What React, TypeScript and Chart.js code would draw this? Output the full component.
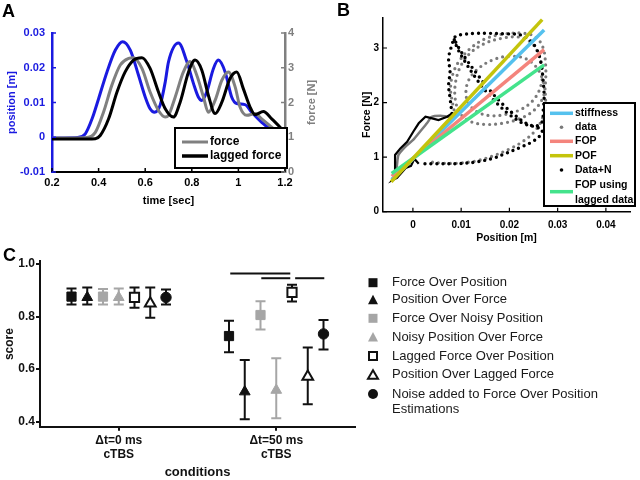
import React, { useEffect, useRef } from "react";
import { Chart, registerables } from "chart.js";
Chart.register(...registerables);

const FONT = "'Liberation Sans', Arial, Helvetica, sans-serif";
const BLUE = "#1a1ae0";
const GRAYA = "#808080";

// ---------------- Panel A data ----------------
const aTimeTicks = [0.2, 0.4, 0.6, 0.8, 1.0, 1.2];
const aTimeTickLabels = ["0.2", "0.4", "0.6", "0.8", "1", "1.2"];
const aPosTicks = [-0.01, 0, 0.01, 0.02, 0.03];
const aPosTickLabels = ["-0.01", "0", "0.01", "0.02", "0.03"];
const aForceTicks = [0, 1, 2, 3, 4];
const aForceTickLabels = ["0", "1", "2", "3", "4"];

const posTime = [0.2, 0.25, 0.31, 0.343, 0.372, 0.4, 0.436, 0.472, 0.503, 0.536, 0.571, 0.6, 0.621, 0.64, 0.664, 0.686, 0.7, 0.743, 0.779, 0.807, 0.828, 0.843, 0.864, 0.893, 0.914, 0.943, 0.971, 0.993, 1.028, 1.057, 1.1, 1.143, 1.186, 1.2];
const posValues = [-0.0002, -0.0002, -0.0001, 0.001, 0.0053, 0.0111, 0.0188, 0.0251, 0.0275, 0.0251, 0.0179, 0.0116, 0.0082, 0.0072, 0.0092, 0.0159, 0.0217, 0.0271, 0.0217, 0.0155, 0.0116, 0.0106, 0.013, 0.0198, 0.0222, 0.0188, 0.0116, 0.0097, 0.0094, 0.0072, 0.0043, 0.0019, -0.001, -0.0022];

const forceTime = [0.2, 0.3, 0.35, 0.386, 0.421, 0.457, 0.493, 0.529, 0.55, 0.586, 0.621, 0.657, 0.686, 0.7, 0.729, 0.764, 0.793, 0.821, 0.85, 0.871, 0.9, 0.929, 0.957, 0.986, 1.007, 1.036, 1.071, 1.1, 1.143, 1.186, 1.2];
const forceValues = [0.98, 0.98, 0.99, 1.14, 1.72, 2.5, 3.08, 3.27, 3.29, 2.98, 2.3, 1.77, 1.58, 1.63, 2.16, 2.88, 3.18, 2.79, 2.16, 1.72, 2.06, 2.64, 2.88, 2.45, 1.87, 1.63, 1.68, 1.53, 1.29, 1.05, 1.0];

const laggedTime = [0.2, 0.35, 0.386, 0.407, 0.443, 0.479, 0.514, 0.55, 0.586, 0.621, 0.657, 0.686, 0.721, 0.75, 0.786, 0.814, 0.843, 0.871, 0.9, 0.929, 0.964, 0.993, 1.021, 1.05, 1.071, 1.107, 1.143, 1.179, 1.2];
const laggedValues = [0.95, 0.95, 0.96, 1.05, 1.53, 2.3, 2.88, 3.22, 3.29, 2.98, 2.3, 1.82, 1.58, 2.01, 2.88, 3.22, 2.93, 2.21, 1.68, 2.01, 2.69, 2.88, 2.4, 1.87, 1.65, 1.74, 1.53, 1.29, 1.14];

const aLegendLabels = ["force", "lagged force"];

// ---------------- Panel B data ----------------
const bPosTicks = [0, 0.01, 0.02, 0.03, 0.04];
const bPosTickLabels = ["0", "0.01", "0.02", "0.03", "0.04"];
const bForceTicks = [0, 1, 2, 3];
const bForceTickLabels = ["0", "1", "2", "3"];

const dataTrace = [[-0.0044, 0.6], [-0.0037, 0.64], [-0.0033, 0.86], [-0.003, 1.04], [-0.0016, 1.19], [0.0001, 1.32], [0.0015, 1.47], [0.0029, 1.62], [0.0039, 1.74], [0.0057, 1.76], [0.0077, 1.74], [0.0088, 1.76]];
const dataLoop = [[0.0088, 1.76], [0.0082, 2.0], [0.0078, 2.25], [0.0082, 2.5], [0.0095, 2.75], [0.012, 3.0], [0.015, 3.17], [0.019, 3.26], [0.023, 3.27], [0.0255, 3.2], [0.027, 3.0], [0.0275, 2.7], [0.0275, 2.4], [0.027, 2.1], [0.025, 1.85], [0.022, 1.7], [0.0185, 1.62], [0.015, 1.6], [0.012, 1.65], [0.0098, 1.8], [0.0088, 2.05], [0.0088, 2.35], [0.0098, 2.65], [0.0118, 2.9], [0.0148, 3.08], [0.0185, 3.18], [0.022, 3.2], [0.0245, 3.1], [0.026, 2.9], [0.0268, 2.6], [0.0265, 2.3], [0.025, 2.05], [0.0225, 1.88], [0.019, 1.78], [0.016, 1.76], [0.0135, 1.82], [0.0118, 1.95], [0.011, 2.15], [0.0115, 2.4], [0.0135, 2.62], [0.0165, 2.78], [0.02, 2.85], [0.0235, 2.8], [0.026, 2.6], [0.0272, 2.3], [0.0275, 2.0], [0.027, 1.75], [0.0255, 1.5], [0.023, 1.3], [0.02, 1.15], [0.0165, 1.02], [0.013, 0.93], [0.0095, 0.89], [0.006, 0.89], [0.003, 0.92]];
const noisyTrace = [[0.0012, 0.88], [0.0003, 0.97], [-0.0004, 0.84], [-0.0015, 0.8], [-0.0025, 0.7], [-0.0033, 0.62], [-0.0042, 0.58], [-0.0037, 0.63], [-0.0037, 1.04], [-0.0026, 1.16], [-0.0012, 1.28], [0.0001, 1.47], [0.0012, 1.62], [0.0026, 1.74], [0.0036, 1.72], [0.0053, 1.68], [0.0071, 1.74], [0.0081, 1.8]];
const noisyLoop = [[0.0081, 1.8], [0.0077, 2.08], [0.0074, 2.32], [0.0077, 2.57], [0.0074, 2.81], [0.0081, 3.06], [0.0088, 3.21], [0.0105, 3.25], [0.013, 3.27], [0.0155, 3.27], [0.019, 3.26], [0.0223, 3.24], [0.0245, 3.12], [0.0258, 2.95], [0.0266, 2.7], [0.027, 2.4], [0.0272, 2.1], [0.027, 1.85], [0.0268, 1.65], [0.0255, 1.57], [0.0235, 1.62], [0.021, 1.78], [0.0185, 1.98], [0.016, 2.22], [0.0135, 2.5], [0.011, 2.8], [0.0092, 3.05], [0.0085, 3.18], [0.0092, 3.0], [0.0108, 2.75], [0.0128, 2.48], [0.015, 2.22], [0.0175, 1.98], [0.02, 1.78], [0.0228, 1.62], [0.0255, 1.55], [0.0268, 1.5], [0.0262, 1.38], [0.0245, 1.27], [0.0223, 1.18], [0.019, 1.06], [0.0167, 0.98], [0.013, 0.91], [0.009, 0.88], [0.005, 0.88], [0.0015, 0.88]];

const stiffnessLine = [[-0.0044, 0.58], [0.0272, 3.33]];
const fopLine = [[-0.0044, 0.65], [0.0272, 2.97]];
const pofLine = [[-0.0045, 0.55], [0.0268, 3.52]];
const fopLaggedLine = [[-0.0044, 0.7], [0.0272, 2.69]];

const bLegendLabels = [["stiffness"], ["data"], ["FOP"], ["POF"], ["Data+N"], ["FOP using", "lagged data"]];

// ---------------- Panel C data ----------------
const cConditions = [["\u0394t=0 ms", "cTBS"], ["\u0394t=50 ms", "cTBS"]];
const cScoreTicks = [0.4, 0.6, 0.8, 1.0];
const cScoreTickLabels = ["0.4", "0.6", "0.8", "1.0"];
const cSeriesNames = ["Force Over Position", "Position Over Force", "Force Over Noisy Position", "Noisy Position Over Force", "Lagged Force Over Position", "Position Over Lagged Force", "Noise added to Force Over Position Estimations"];
const cLegendLines = [["Force Over Position"], ["Position Over Force"], ["Force Over Noisy Position"], ["Noisy Position Over Force"], ["Lagged Force Over Position"], ["Position Over Lagged Force"], ["Noise added to Force Over Position", "Estimations"]];

const meanFOP = [0.876, 0.726];
const lowFOP = [0.846, 0.664];
const highFOP = [0.907, 0.784];
const meanPOF = [0.873, 0.514];
const lowPOF = [0.846, 0.409];
const highPOF = [0.911, 0.635];
const meanFONP = [0.876, 0.806];
const lowFONP = [0.846, 0.751];
const highFONP = [0.905, 0.858];
const meanNPOF = [0.873, 0.52];
const lowNPOF = [0.846, 0.413];
const highNPOF = [0.907, 0.641];
const meanLFOP = [0.873, 0.892];
const lowLFOP = [0.834, 0.857];
const highLFOP = [0.911, 0.921];
const meanPOLF = [0.85, 0.571];
const lowPOLF = [0.796, 0.466];
const highPOLF = [0.911, 0.682];
const meanNOISE = [0.873, 0.734];
const lowNOISE = [0.846, 0.675];
const highNOISE = [0.903, 0.787];

const sigStart = [0.708, 0.905, 1.12];
const sigEnd = [1.089, 1.089, 1.305];
const sigLevel = [0.964, 0.946, 0.946];

// --------------------------------------------------------------
const pts = (xs: number[], ys: number[]) => xs.map((x, i) => ({ x, y: ys[i] }));
const pairs = (p: number[][]) => p.map(([x, y]) => ({ x, y }));
const fixTicks = (vals: number[]) => (s: any) => { s.ticks = vals.map((v) => ({ value: v })); };
const f = (size: number, bold = true) => ({ family: FONT, size, weight: bold ? ("bold" as const) : ("normal" as const) });

function innerTicksPlugin(items: { id: string; len: number; color: string; width: number }[]) {
  return {
    id: "innerTicks",
    afterDatasetsDraw(chart: any) {
      const ctx = chart.ctx;
      items.forEach((it) => {
        const s = chart.scales[it.id];
        if (!s) return;
        ctx.save();
        ctx.strokeStyle = it.color;
        ctx.lineWidth = it.width;
        ctx.beginPath();
        s.ticks.forEach((t: any) => {
          const p = s.getPixelForValue(t.value);
          if (s.position === "left") { ctx.moveTo(s.right, p); ctx.lineTo(s.right + it.len, p); }
          else if (s.position === "right") { ctx.moveTo(s.left, p); ctx.lineTo(s.left - it.len, p); }
          else { ctx.moveTo(p, s.top); ctx.lineTo(p, s.top - it.len); }
        });
        ctx.stroke();
        ctx.restore();
      });
    },
  };
}

type LegItem = { kind: "line" | "dot"; color: string; width: number; sy: number; lines: string[]; ty: number[] };
function boxLegendPlugin(cfg: { x: number; y: number; w: number; h: number; sx0: number; sx1: number; tx: number; font: string; items: LegItem[] }) {
  return {
    id: "boxLegend",
    afterDraw(chart: any) {
      const ctx = chart.ctx;
      ctx.save();
      ctx.fillStyle = "#fff";
      ctx.fillRect(cfg.x, cfg.y, cfg.w, cfg.h);
      ctx.strokeStyle = "#000";
      ctx.lineWidth = 2;
      ctx.strokeRect(cfg.x, cfg.y, cfg.w, cfg.h);
      ctx.font = cfg.font;
      ctx.textBaseline = "middle";
      ctx.textAlign = "left";
      cfg.items.forEach((it) => {
        if (it.kind === "line") {
          ctx.strokeStyle = it.color;
          ctx.lineWidth = it.width;
          ctx.beginPath();
          ctx.moveTo(cfg.sx0, it.sy);
          ctx.lineTo(cfg.sx1, it.sy);
          ctx.stroke();
        } else {
          ctx.fillStyle = it.color;
          ctx.beginPath();
          ctx.arc((cfg.sx0 + cfg.sx1) / 2, it.sy, it.width, 0, Math.PI * 2);
          ctx.fill();
        }
        ctx.fillStyle = "#000";
        it.lines.forEach((ln, k) => ctx.fillText(ln, cfg.tx, it.ty[k]));
      });
      ctx.restore();
    },
  };
}

function makeA(canvas: HTMLCanvasElement) {
  const rightTitle = {
    id: "rightTitle",
    afterDraw(chart: any) {
      const s = chart.scales.yR;
      const ctx = chart.ctx;
      ctx.save();
      ctx.translate(s.right - 8.3, (chart.chartArea.top + chart.chartArea.bottom) / 2);
      ctx.rotate(-Math.PI / 2);
      ctx.font = `bold 11px ${FONT}`;
      ctx.fillStyle = GRAYA;
      ctx.textAlign = "center";
      ctx.textBaseline = "middle";
      ctx.fillText("force [N]", 0, 0);
      ctx.restore();
    },
  };
  return new Chart(canvas, {
    type: "line",
    data: {
      datasets: [
        { label: aLegendLabels[1], data: pts(laggedTime, laggedValues), yAxisID: "yR", borderColor: "#000", borderWidth: 3, pointRadius: 0, cubicInterpolationMode: "monotone" },
        { label: aLegendLabels[0], data: pts(forceTime, forceValues), yAxisID: "yR", borderColor: GRAYA, borderWidth: 3, pointRadius: 0, cubicInterpolationMode: "monotone" },
        { label: "position", data: pts(posTime, posValues), yAxisID: "yL", borderColor: BLUE, borderWidth: 3, pointRadius: 0, cubicInterpolationMode: "monotone" },
      ],
    },
    options: {
      responsive: false,
      animation: false,
      layout: { padding: { top: 33, left: 0, right: 0, bottom: 0 } },
      plugins: { legend: { display: false }, tooltip: { enabled: false } },
      scales: {
        x: {
          type: "linear", position: "bottom", min: 0.2, max: 1.2,
          afterBuildTicks: fixTicks(aTimeTicks),
          afterFit: (s: any) => { s.height = 43; },
          grid: { display: false, drawTicks: false },
          border: { display: true, color: "#000", width: 2 },
          ticks: { color: "#000", font: f(11), padding: 4.5, maxRotation: 0, autoSkip: false, callback: (_v: any, i: number) => aTimeTickLabels[i] },
          title: { display: true, text: "time [sec]", color: "#000", font: f(11), padding: { top: 0, bottom: 7.4 } },
        },
        yL: {
          type: "linear", position: "left", min: -0.01, max: 0.03,
          afterBuildTicks: fixTicks(aPosTicks),
          afterFit: (s: any) => { s.width = 52; },
          grid: { display: false, drawTicks: false },
          border: { display: true, color: BLUE, width: 2.5 },
          ticks: { color: BLUE, font: f(11), padding: 7, autoSkip: false, callback: (_v: any, i: number) => aPosTickLabels[i] },
          title: { display: true, text: "position [m]", color: BLUE, font: f(11), padding: { top: 5, bottom: 0 } },
        },
        yR: {
          type: "linear", position: "right", min: 0, max: 4,
          afterBuildTicks: fixTicks(aForceTicks),
          afterFit: (s: any) => { s.width = 35; },
          grid: { display: false, drawTicks: false },
          border: { display: true, color: GRAYA, width: 2.5 },
          ticks: { color: GRAYA, font: f(11), padding: 3, autoSkip: false, callback: (_v: any, i: number) => aForceTickLabels[i] },
          title: { display: false },
        },
      },
    } as any,
    plugins: [
      innerTicksPlugin([
        { id: "x", len: 4, color: "#000", width: 1.5 },
        { id: "yL", len: 4, color: BLUE, width: 1.5 },
        { id: "yR", len: 4, color: GRAYA, width: 1.5 },
      ]),
      boxLegendPlugin({
        x: 175, y: 128, w: 112, h: 40, sx0: 182, sx1: 208, tx: 210, font: `bold 12px ${FONT}`,
        items: [
          { kind: "line", color: GRAYA, width: 3, sy: 142, lines: [aLegendLabels[0]], ty: [142] },
          { kind: "line", color: "#000", width: 3.5, sy: 156, lines: [aLegendLabels[1]], ty: [156] },
        ],
      }),
      rightTitle,
    ],
  });
}

const C_STIFF = "#55c1ee";
const C_FOP = "#f4847c";
const C_POF = "#c4c40c";
const C_GREEN = "#44e38c";

function makeB(canvas: HTMLCanvasElement) {
  const dot = { pointRadius: 0, borderDash: [0, 6], borderCapStyle: "round", tension: 0.35 };
  return new Chart(canvas, {
    type: "line",
    data: {
      datasets: [
        { label: "POF", data: pairs(pofLine), borderColor: C_POF, borderWidth: 3.5, pointRadius: 0 },
        { label: "FOP using lagged data", data: pairs(fopLaggedLine), borderColor: C_GREEN, borderWidth: 3.5, pointRadius: 0 },
        { label: "FOP", data: pairs(fopLine), borderColor: C_FOP, borderWidth: 3.5, pointRadius: 0 },
        { label: "stiffness", data: pairs(stiffnessLine), borderColor: C_STIFF, borderWidth: 3.5, pointRadius: 0 },
        { label: "Data+N", data: pairs(noisyLoop), borderColor: "#000", borderWidth: 3.4, ...dot },
        { label: "Data+N trace", data: pairs(noisyTrace), borderColor: "#000", borderWidth: 2.2, pointRadius: 0, tension: 0 },
        { label: "data", data: pairs(dataLoop), borderColor: "#7a7a7a", borderWidth: 3.2, ...dot },
        { label: "data trace", data: pairs(dataTrace), borderColor: "#7a7a7a", borderWidth: 2.5, pointRadius: 0, tension: 0.2 },
      ],
    },
    options: {
      responsive: false,
      animation: false,
      layout: { padding: { top: 18, left: 35, right: 10, bottom: 0 } },
      plugins: { legend: { display: false }, tooltip: { enabled: false } },
      scales: {
        x: {
          type: "linear", position: "bottom", min: -0.0062, max: 0.045,
          afterBuildTicks: fixTicks(bPosTicks),
          afterFit: (s: any) => { s.height = 38.3; },
          grid: { display: false, drawTicks: false },
          border: { display: true, color: "#000", width: 1.5 },
          ticks: { color: "#000", font: f(10), padding: 7.3, maxRotation: 0, autoSkip: false, callback: (_v: any, i: number) => bPosTickLabels[i] },
          title: { display: true, text: "Position [m]", color: "#000", font: f(10.5), padding: { top: 0, bottom: 5.7 } },
        },
        y: {
          type: "linear", position: "left", min: 0, max: 3.55,
          afterBuildTicks: fixTicks(bForceTicks),
          afterFit: (s: any) => { s.width = 28; },
          grid: { display: false, drawTicks: false },
          border: { display: true, color: "#000", width: 1.5 },
          ticks: { color: "#000", font: f(10), padding: 4, autoSkip: false, callback: (_v: any, i: number) => bForceTickLabels[i] },
          title: { display: true, text: "Force [N]", color: "#000", font: f(10.5), padding: { top: 5.4, bottom: 0 } },
        },
      },
    } as any,
    plugins: [
      innerTicksPlugin([
        { id: "x", len: 4, color: "#000", width: 1.2 },
        { id: "y", len: 4, color: "#000", width: 1.2 },
      ]),
      boxLegendPlugin({
        x: 224, y: 103, w: 91, h: 103, sx0: 230, sx1: 253, tx: 255, font: `bold 10.5px ${FONT}`,
        items: [
          { kind: "line", color: C_STIFF, width: 3.5, sy: 113.3, lines: bLegendLabels[0], ty: [113.3] },
          { kind: "dot", color: "#7a7a7a", width: 1.8, sy: 127.3, lines: bLegendLabels[1], ty: [127.3] },
          { kind: "line", color: C_FOP, width: 3.5, sy: 141.3, lines: bLegendLabels[2], ty: [141.3] },
          { kind: "line", color: C_POF, width: 3.5, sy: 155.7, lines: bLegendLabels[3], ty: [155.7] },
          { kind: "dot", color: "#000", width: 1.8, sy: 170, lines: bLegendLabels[4], ty: [170] },
          { kind: "line", color: C_GREEN, width: 3.5, sy: 191.7, lines: bLegendLabels[5], ty: [185.3, 200] },
        ],
      }),
    ],
  });
}

const BLACKC = "#111111";
const GRAYC = "#a6a6a6";

function makeC(canvas: HTMLCanvasElement) {
  const series = [
    { name: cSeriesNames[0], mean: meanFOP, low: lowFOP, high: highFOP, off: -0.3, shape: "rect", fill: BLACKC, stroke: BLACKC },
    { name: cSeriesNames[1], mean: meanPOF, low: lowPOF, high: highPOF, off: -0.2, shape: "triangle", fill: BLACKC, stroke: BLACKC },
    { name: cSeriesNames[2], mean: meanFONP, low: lowFONP, high: highFONP, off: -0.1, shape: "rect", fill: GRAYC, stroke: GRAYC },
    { name: cSeriesNames[3], mean: meanNPOF, low: lowNPOF, high: highNPOF, off: 0, shape: "triangle", fill: GRAYC, stroke: GRAYC },
    { name: cSeriesNames[4], mean: meanLFOP, low: lowLFOP, high: highLFOP, off: 0.1, shape: "rect", fill: "#ffffff", stroke: BLACKC },
    { name: cSeriesNames[5], mean: meanPOLF, low: lowPOLF, high: highPOLF, off: 0.2, shape: "triangle", fill: "#ffffff", stroke: BLACKC },
    { name: cSeriesNames[6], mean: meanNOISE, low: lowNOISE, high: highNOISE, off: 0.3, shape: "circle", fill: BLACKC, stroke: BLACKC },
  ];
  const radius = (shape: string) => (shape === "rect" ? 6.5 : shape === "triangle" ? 6.2 : 5.2);

  const errorBars = {
    id: "errorBars",
    beforeDatasetsDraw(chart: any) {
      const ctx = chart.ctx;
      const xs = chart.scales.x, ys = chart.scales.y;
      ctx.save();
      ctx.lineWidth = 2;
      series.forEach((s) => {
        ctx.strokeStyle = s.stroke;
        s.mean.forEach((_m, j) => {
          const x = xs.getPixelForValue(j + s.off);
          const y0 = ys.getPixelForValue(s.low[j]);
          const y1 = ys.getPixelForValue(s.high[j]);
          ctx.beginPath();
          ctx.moveTo(x, y0); ctx.lineTo(x, y1);
          ctx.moveTo(x - 5, y0); ctx.lineTo(x + 5, y0);
          ctx.moveTo(x - 5, y1); ctx.lineTo(x + 5, y1);
          ctx.stroke();
        });
      });
      ctx.restore();
    },
  };

  const legendC = {
    id: "legendC",
    afterDraw(chart: any) {
      const ctx = chart.ctx;
      const mx = 373, tx = 392;
      const rows = [42.7, 59.7, 78.3, 97, 116, 134.7, 154];
      ctx.save();
      ctx.font = `13px ${FONT}`;
      ctx.textBaseline = "middle";
      ctx.textAlign = "left";
      series.forEach((s, i) => {
        const y = rows[i];
        ctx.fillStyle = s.fill;
        ctx.strokeStyle = s.stroke;
        ctx.lineWidth = 2;
        ctx.beginPath();
        if (s.shape === "rect") {
          if (s.fill === "#ffffff") ctx.rect(mx - 4, y - 4, 8, 8);
          else ctx.rect(mx - 4.5, y - 4.5, 9, 9);
        } else if (s.shape === "triangle") {
          const h = s.fill === "#ffffff" ? 8 : 9;
          ctx.moveTo(mx, y - h / 2 - 0.5);
          ctx.lineTo(mx + 5, y + h / 2);
          ctx.lineTo(mx - 5, y + h / 2);
          ctx.closePath();
        } else {
          ctx.arc(mx, y, 5, 0, Math.PI * 2);
        }
        ctx.fill();
        if (s.fill === "#ffffff") ctx.stroke();
        ctx.fillStyle = "#1a1a1a";
        cLegendLines[i].forEach((ln, k) => ctx.fillText(ln, tx, y + k * 15.5));
      });
      ctx.restore();
    },
  };

  const datasets: any[] = series.map((s) => ({
    label: s.name,
    data: s.mean.map((m, j) => ({ x: j + s.off, y: m })),
    showLine: false,
    pointStyle: s.shape,
    pointRadius: radius(s.shape),
    backgroundColor: s.fill,
    borderColor: s.stroke,
    borderWidth: s.fill === "#ffffff" ? 2 : 1,
  }));
  sigStart.forEach((x0, i) => {
    datasets.push({
      label: "sig" + i,
      data: [{ x: x0, y: sigLevel[i] }, { x: sigEnd[i], y: sigLevel[i] }],
      showLine: true, pointRadius: 0, borderColor: BLACKC, borderWidth: 2,
    });
  });

  return new Chart(canvas, {
    type: "line",
    data: { datasets },
    options: {
      responsive: false,
      animation: false,
      clip: false,
      layout: { padding: { top: 21.4, left: 0, right: 285, bottom: 0 } },
      plugins: { legend: { display: false }, tooltip: { enabled: false } },
      scales: {
        x: {
          type: "linear", position: "bottom", min: -0.5, max: 1.5,
          afterBuildTicks: fixTicks([0, 1]),
          afterFit: (s: any) => { s.height = 53.3; },
          grid: { display: true, drawOnChartArea: false, drawTicks: true, tickLength: 4, color: BLACKC, lineWidth: 2 },
          border: { display: true, color: BLACKC, width: 2 },
          ticks: { color: BLACKC, font: f(12), padding: 2.8, maxRotation: 0, autoSkip: false, callback: (_v: any, i: number) => cConditions[i] },
          title: { display: true, text: "conditions", color: BLACKC, font: f(13), padding: { top: 0, bottom: 0 } },
        },
        y: {
          type: "linear", position: "left", min: 0.381, max: 1.01,
          afterBuildTicks: fixTicks(cScoreTicks),
          afterFit: (s: any) => { s.width = 40; },
          grid: { display: true, drawOnChartArea: false, drawTicks: true, tickLength: 4, color: BLACKC, lineWidth: 2 },
          border: { display: true, color: BLACKC, width: 2 },
          ticks: { color: BLACKC, font: f(12), padding: 1, autoSkip: false, callback: (_v: any, i: number) => cScoreTickLabels[i] },
          title: { display: true, text: "score", color: BLACKC, font: f(12), padding: { top: 2.8, bottom: 0 } },
        },
      },
    } as any,
    plugins: [errorBars, legendC],
  });
}

const letter = (left: number, top: number): React.CSSProperties => ({
  position: "absolute", left, top, fontFamily: FONT, fontWeight: "bold", fontSize: 18, lineHeight: "18px", color: "#000",
});

export default function App() {
  const aRef = useRef<HTMLCanvasElement>(null);
  const bRef = useRef<HTMLCanvasElement>(null);
  const cRef = useRef<HTMLCanvasElement>(null);
  useEffect(() => {
    const charts = [makeA(aRef.current!), makeB(bRef.current!), makeC(cRef.current!)];
    return () => charts.forEach((c) => c.destroy());
  }, []);
  return (
    <div style={{ position: "absolute", left: 0, top: 0, width: 640, height: 480, background: "#fff", overflow: "hidden" }}>
      <canvas ref={aRef} width={320} height={215} style={{ position: "absolute", left: 0, top: 0 }} />
      <canvas ref={bRef} width={320} height={250} style={{ position: "absolute", left: 320, top: 0 }} />
      <canvas ref={cRef} width={640} height={240} style={{ position: "absolute", left: 0, top: 240 }} />
      <div style={letter(2, 2)}>A</div>
      <div style={letter(337, 1)}>B</div>
      <div style={letter(3, 246)}>C</div>
    </div>
  );
}
